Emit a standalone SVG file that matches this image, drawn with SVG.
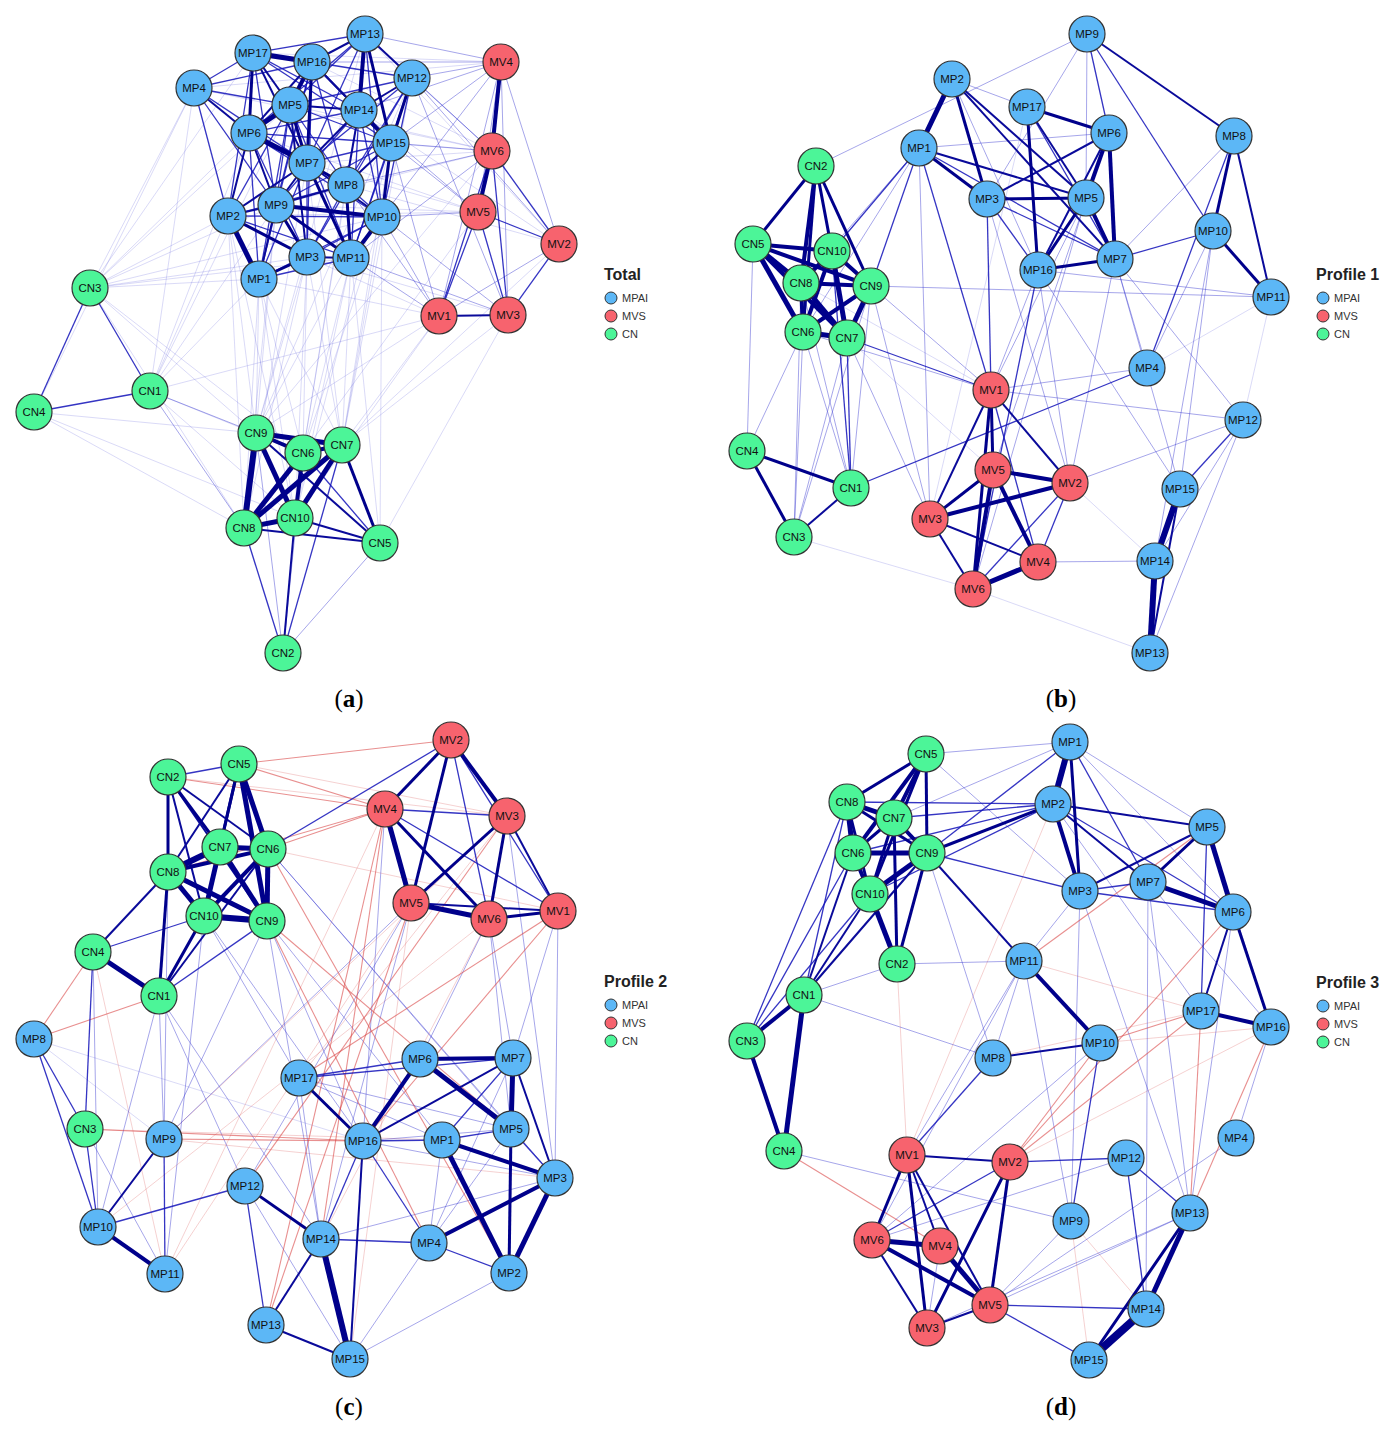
<svg xmlns="http://www.w3.org/2000/svg" width="1392" height="1430" viewBox="0 0 1392 1430">
<style>
.e8{stroke:#00008b;stroke-width:8}.e6{stroke:#00008b;stroke-width:6}.e5{stroke:#00008b;stroke-width:5}.e4{stroke:#00008b;stroke-width:4}.e3{stroke:#00008b;stroke-width:3}
.e2{stroke:#0a0a9a;stroke-width:2}.e1{stroke:#1212b8;stroke-width:1.3;stroke-opacity:.85}.l{stroke:#3a3ad0;stroke-width:1;stroke-opacity:.45}.f{stroke:#6a6ae0;stroke-width:1;stroke-opacity:.25}
.r{stroke:#d94545;stroke-width:1.1;stroke-opacity:.6}.rf{stroke:#e07070;stroke-width:1;stroke-opacity:.32}
.n circle{stroke:#333;stroke-width:1.2}.b circle{fill:#5cb7f6}.v circle{fill:#f7636e}.g circle{fill:#4cf598}
.n text{font-family:'Liberation Sans',Arial,sans-serif;font-size:11.5px;fill:#111;text-anchor:middle;dominant-baseline:central}
.lt{font-family:'Liberation Sans',Arial,sans-serif;font-size:16px;font-weight:bold;fill:#222}
.li{font-family:'Liberation Sans',Arial,sans-serif;font-size:11px;fill:#333}
.lc{stroke:#333;stroke-width:1}
.cap{font-family:'Liberation Serif','Times New Roman',serif;font-size:25px;fill:#000;text-anchor:middle}
</style>
<rect width="1392" height="1430" fill="#fff"/>
<g id="connectors">
<g id="edges-a">
<line class="f" x1="259" y1="279" x2="256" y2="433"/><line class="f" x1="259" y1="279" x2="244" y2="528"/><line class="f" x1="259" y1="279" x2="303" y2="453"/><line class="f" x1="259" y1="279" x2="342" y2="445"/><line class="f" x1="259" y1="279" x2="295" y2="518"/>
<line class="f" x1="307" y1="257" x2="256" y2="433"/><line class="f" x1="307" y1="257" x2="303" y2="453"/><line class="f" x1="307" y1="257" x2="342" y2="445"/><line class="f" x1="307" y1="257" x2="295" y2="518"/><line class="f" x1="307" y1="257" x2="244" y2="528"/>
<line class="f" x1="351" y1="258" x2="342" y2="445"/><line class="f" x1="351" y1="258" x2="256" y2="433"/><line class="f" x1="351" y1="258" x2="303" y2="453"/><line class="f" x1="351" y1="258" x2="380" y2="543"/><line class="f" x1="351" y1="258" x2="295" y2="518"/>
<line class="f" x1="276" y1="205" x2="256" y2="433"/><line class="f" x1="276" y1="205" x2="244" y2="528"/><line class="f" x1="228" y1="216" x2="256" y2="433"/><line class="f" x1="228" y1="216" x2="244" y2="528"/><line class="f" x1="228" y1="216" x2="295" y2="518"/>
<line class="f" x1="382" y1="217" x2="342" y2="445"/><line class="f" x1="382" y1="217" x2="303" y2="453"/><line class="f" x1="382" y1="217" x2="380" y2="543"/><line class="f" x1="346" y1="185" x2="303" y2="453"/><line class="f" x1="307" y1="163" x2="342" y2="445"/><line class="f" x1="307" y1="163" x2="244" y2="528"/>
<line class="f" x1="228" y1="216" x2="150" y2="391"/><line class="f" x1="259" y1="279" x2="150" y2="391"/><line class="f" x1="276" y1="205" x2="150" y2="391"/><line class="f" x1="249" y1="133" x2="150" y2="391"/>
<line class="f" x1="194" y1="88" x2="90" y2="288"/><line class="f" x1="228" y1="216" x2="90" y2="288"/><line class="f" x1="259" y1="279" x2="90" y2="288"/><line class="f" x1="249" y1="133" x2="90" y2="288"/><line class="f" x1="276" y1="205" x2="90" y2="288"/><line class="f" x1="307" y1="257" x2="90" y2="288"/><line class="f" x1="351" y1="258" x2="90" y2="288"/><line class="f" x1="382" y1="217" x2="90" y2="288"/><line class="f" x1="290" y1="105" x2="90" y2="288"/>
<line class="f" x1="439" y1="316" x2="342" y2="445"/><line class="f" x1="439" y1="316" x2="256" y2="433"/><line class="f" x1="508" y1="315" x2="342" y2="445"/><line class="f" x1="478" y1="212" x2="303" y2="453"/><line class="f" x1="439" y1="316" x2="150" y2="391"/><line class="f" x1="508" y1="315" x2="380" y2="543"/><line class="f" x1="559" y1="244" x2="342" y2="445"/><line class="f" x1="439" y1="316" x2="295" y2="518"/><line class="f" x1="492" y1="151" x2="256" y2="433"/>
<line class="f" x1="391" y1="143" x2="342" y2="445"/><line class="f" x1="359" y1="110" x2="303" y2="453"/><line class="f" x1="412" y1="78" x2="342" y2="445"/><line class="f" x1="365" y1="34" x2="256" y2="433"/><line class="f" x1="312" y1="62" x2="150" y2="391"/><line class="f" x1="253" y1="53" x2="90" y2="288"/><line class="f" x1="412" y1="78" x2="256" y2="433"/><line class="f" x1="391" y1="143" x2="295" y2="518"/><line class="f" x1="194" y1="88" x2="150" y2="391"/><line class="f" x1="194" y1="88" x2="34" y2="412"/>
<line class="f" x1="194" y1="88" x2="501" y2="62"/><line class="f" x1="194" y1="88" x2="492" y2="151"/><line class="f" x1="249" y1="133" x2="492" y2="151"/><line class="f" x1="307" y1="163" x2="478" y2="212"/><line class="f" x1="276" y1="205" x2="478" y2="212"/><line class="f" x1="228" y1="216" x2="478" y2="212"/><line class="f" x1="259" y1="279" x2="439" y2="316"/><line class="f" x1="307" y1="257" x2="439" y2="316"/><line class="f" x1="307" y1="257" x2="508" y2="315"/>
<line class="f" x1="346" y1="185" x2="559" y2="244"/><line class="f" x1="359" y1="110" x2="559" y2="244"/><line class="f" x1="312" y1="62" x2="492" y2="151"/><line class="f" x1="253" y1="53" x2="501" y2="62"/><line class="f" x1="290" y1="105" x2="492" y2="151"/><line class="f" x1="249" y1="133" x2="478" y2="212"/><line class="f" x1="365" y1="34" x2="559" y2="244"/><line class="f" x1="276" y1="205" x2="492" y2="151"/><line class="f" x1="307" y1="163" x2="492" y2="151"/>
<line class="f" x1="150" y1="391" x2="295" y2="518"/><line class="f" x1="150" y1="391" x2="303" y2="453"/><line class="f" x1="34" y1="412" x2="244" y2="528"/><line class="f" x1="34" y1="412" x2="256" y2="433"/><line class="f" x1="34" y1="412" x2="295" y2="518"/><line class="f" x1="90" y1="288" x2="256" y2="433"/><line class="f" x1="90" y1="288" x2="244" y2="528"/><line class="f" x1="90" y1="288" x2="303" y2="453"/>
<line class="l" x1="365" y1="34" x2="501" y2="62"/><line class="l" x1="412" y1="78" x2="501" y2="62"/><line class="l" x1="312" y1="62" x2="501" y2="62"/><line class="l" x1="359" y1="110" x2="501" y2="62"/><line class="l" x1="391" y1="143" x2="492" y2="151"/><line class="l" x1="412" y1="78" x2="492" y2="151"/><line class="l" x1="382" y1="217" x2="478" y2="212"/><line class="l" x1="391" y1="143" x2="478" y2="212"/>
<line class="l" x1="351" y1="258" x2="439" y2="316"/><line class="l" x1="382" y1="217" x2="439" y2="316"/><line class="l" x1="346" y1="185" x2="439" y2="316"/><line class="l" x1="391" y1="143" x2="439" y2="316"/><line class="l" x1="382" y1="217" x2="508" y2="315"/><line class="l" x1="412" y1="78" x2="559" y2="244"/><line class="l" x1="351" y1="258" x2="508" y2="315"/><line class="l" x1="412" y1="78" x2="508" y2="315"/>
<line class="l" x1="501" y1="62" x2="391" y2="143"/><line class="l" x1="501" y1="62" x2="382" y2="217"/><line class="l" x1="492" y1="151" x2="351" y2="258"/><line class="l" x1="492" y1="151" x2="346" y2="185"/><line class="l" x1="359" y1="110" x2="478" y2="212"/><line class="l" x1="365" y1="34" x2="492" y2="151"/>
<line class="l" x1="501" y1="62" x2="559" y2="244"/><line class="l" x1="501" y1="62" x2="478" y2="212"/><line class="l" x1="439" y1="316" x2="559" y2="244"/><line class="l" x1="501" y1="62" x2="439" y2="316"/><line class="l" x1="501" y1="62" x2="508" y2="315"/>
<line class="l" x1="150" y1="391" x2="256" y2="433"/><line class="l" x1="150" y1="391" x2="244" y2="528"/><line class="l" x1="283" y1="653" x2="256" y2="433"/><line class="l" x1="283" y1="653" x2="380" y2="543"/><line class="l" x1="283" y1="653" x2="303" y2="453"/>
<line class="e1" x1="194" y1="88" x2="290" y2="105"/><line class="e1" x1="194" y1="88" x2="253" y2="53"/><line class="e1" x1="194" y1="88" x2="228" y2="216"/><line class="e1" x1="194" y1="88" x2="312" y2="62"/><line class="e1" x1="194" y1="88" x2="307" y2="163"/><line class="e1" x1="194" y1="88" x2="276" y2="205"/>
<line class="e1" x1="365" y1="34" x2="253" y2="53"/><line class="e1" x1="365" y1="34" x2="290" y2="105"/><line class="e1" x1="365" y1="34" x2="307" y2="163"/><line class="e1" x1="365" y1="34" x2="382" y2="217"/><line class="e1" x1="412" y1="78" x2="312" y2="62"/><line class="e1" x1="412" y1="78" x2="382" y2="217"/><line class="e1" x1="412" y1="78" x2="351" y2="258"/><line class="e1" x1="412" y1="78" x2="346" y2="185"/>
<line class="e1" x1="391" y1="143" x2="351" y2="258"/><line class="e1" x1="391" y1="143" x2="307" y2="163"/><line class="e1" x1="391" y1="143" x2="290" y2="105"/><line class="e1" x1="359" y1="110" x2="249" y2="133"/><line class="e1" x1="359" y1="110" x2="382" y2="217"/><line class="e1" x1="359" y1="110" x2="351" y2="258"/><line class="e1" x1="359" y1="110" x2="276" y2="205"/>
<line class="e1" x1="312" y1="62" x2="346" y2="185"/><line class="e1" x1="312" y1="62" x2="276" y2="205"/><line class="e1" x1="312" y1="62" x2="307" y2="257"/><line class="e1" x1="253" y1="53" x2="276" y2="205"/><line class="e1" x1="253" y1="53" x2="228" y2="216"/><line class="e1" x1="253" y1="53" x2="359" y2="110"/>
<line class="e1" x1="290" y1="105" x2="276" y2="205"/><line class="e1" x1="290" y1="105" x2="346" y2="185"/><line class="e1" x1="290" y1="105" x2="228" y2="216"/><line class="e1" x1="290" y1="105" x2="351" y2="258"/><line class="e1" x1="249" y1="133" x2="346" y2="185"/><line class="e1" x1="249" y1="133" x2="307" y2="257"/><line class="e1" x1="249" y1="133" x2="259" y2="279"/><line class="e1" x1="249" y1="133" x2="382" y2="217"/>
<line class="e1" x1="307" y1="163" x2="307" y2="257"/><line class="e1" x1="307" y1="163" x2="259" y2="279"/><line class="e1" x1="346" y1="185" x2="382" y2="217"/><line class="e1" x1="346" y1="185" x2="307" y2="257"/><line class="e1" x1="346" y1="185" x2="228" y2="216"/><line class="e1" x1="276" y1="205" x2="391" y2="143"/>
<line class="e1" x1="382" y1="217" x2="307" y2="257"/><line class="e1" x1="382" y1="217" x2="259" y2="279"/><line class="e1" x1="351" y1="258" x2="259" y2="279"/><line class="e1" x1="228" y1="216" x2="382" y2="217"/><line class="e1" x1="228" y1="216" x2="351" y2="258"/><line class="e1" x1="307" y1="257" x2="412" y2="78"/>
<line class="e1" x1="259" y1="279" x2="290" y2="105"/><line class="e1" x1="259" y1="279" x2="312" y2="62"/><line class="e1" x1="253" y1="53" x2="391" y2="143"/><line class="e1" x1="412" y1="78" x2="290" y2="105"/><line class="e1" x1="365" y1="34" x2="249" y2="133"/><line class="e1" x1="391" y1="143" x2="249" y2="133"/><line class="e1" x1="412" y1="78" x2="307" y2="163"/>
<line class="e1" x1="508" y1="315" x2="559" y2="244"/><line class="e1" x1="439" y1="316" x2="478" y2="212"/><line class="e1" x1="478" y1="212" x2="559" y2="244"/><line class="e1" x1="478" y1="212" x2="508" y2="315"/><line class="e1" x1="492" y1="151" x2="559" y2="244"/><line class="e1" x1="492" y1="151" x2="508" y2="315"/><line class="e1" x1="492" y1="151" x2="439" y2="316"/>
<line class="e1" x1="90" y1="288" x2="34" y2="412"/><line class="e1" x1="90" y1="288" x2="150" y2="391"/><line class="e1" x1="150" y1="391" x2="34" y2="412"/><line class="e1" x1="303" y1="453" x2="380" y2="543"/><line class="e1" x1="244" y1="528" x2="283" y2="653"/><line class="e1" x1="342" y1="445" x2="283" y2="653"/>
<line class="e2" x1="412" y1="78" x2="359" y2="110"/><line class="e2" x1="228" y1="216" x2="276" y2="205"/><line class="e2" x1="228" y1="216" x2="249" y2="133"/><line class="e2" x1="194" y1="88" x2="249" y2="133"/><line class="e2" x1="312" y1="62" x2="249" y2="133"/><line class="e2" x1="290" y1="105" x2="307" y2="257"/><line class="e2" x1="307" y1="163" x2="276" y2="205"/><line class="e2" x1="346" y1="185" x2="276" y2="205"/>
<line class="e2" x1="359" y1="110" x2="346" y2="185"/><line class="e2" x1="312" y1="62" x2="359" y2="110"/><line class="e2" x1="365" y1="34" x2="312" y2="62"/><line class="e2" x1="365" y1="34" x2="412" y2="78"/><line class="e2" x1="253" y1="53" x2="290" y2="105"/><line class="e2" x1="249" y1="133" x2="276" y2="205"/><line class="e2" x1="307" y1="257" x2="351" y2="258"/><line class="e2" x1="259" y1="279" x2="276" y2="205"/>
<line class="e2" x1="307" y1="163" x2="382" y2="217"/><line class="e2" x1="391" y1="143" x2="346" y2="185"/><line class="e2" x1="312" y1="62" x2="391" y2="143"/><line class="e2" x1="290" y1="105" x2="359" y2="110"/><line class="e2" x1="359" y1="110" x2="307" y2="163"/><line class="e2" x1="228" y1="216" x2="307" y2="163"/><line class="e2" x1="253" y1="53" x2="307" y2="163"/>
<line class="e2" x1="439" y1="316" x2="508" y2="315"/><line class="e2" x1="295" y1="518" x2="380" y2="543"/><line class="e2" x1="244" y1="528" x2="380" y2="543"/><line class="e2" x1="256" y1="433" x2="380" y2="543"/><line class="e2" x1="295" y1="518" x2="283" y2="653"/>
<line class="e3" x1="365" y1="34" x2="391" y2="143"/><line class="e3" x1="253" y1="53" x2="249" y2="133"/><line class="e3" x1="228" y1="216" x2="307" y2="257"/><line class="e3" x1="346" y1="185" x2="351" y2="258"/><line class="e3" x1="391" y1="143" x2="382" y2="217"/><line class="e3" x1="412" y1="78" x2="391" y2="143"/><line class="e3" x1="307" y1="163" x2="346" y2="185"/>
<line class="e3" x1="276" y1="205" x2="351" y2="258"/><line class="e3" x1="276" y1="205" x2="307" y2="257"/><line class="e3" x1="259" y1="279" x2="307" y2="257"/><line class="e3" x1="307" y1="163" x2="351" y2="258"/><line class="e3" x1="312" y1="62" x2="307" y2="163"/><line class="e3" x1="290" y1="105" x2="307" y2="163"/><line class="e3" x1="342" y1="445" x2="380" y2="543"/>
<line class="e4" x1="365" y1="34" x2="359" y2="110"/><line class="e4" x1="359" y1="110" x2="391" y2="143"/><line class="e4" x1="276" y1="205" x2="382" y2="217"/><line class="e4" x1="382" y1="217" x2="351" y2="258"/><line class="e4" x1="312" y1="62" x2="290" y2="105"/><line class="e4" x1="501" y1="62" x2="492" y2="151"/><line class="e4" x1="492" y1="151" x2="478" y2="212"/>
<line class="e4" x1="256" y1="433" x2="303" y2="453"/><line class="e4" x1="303" y1="453" x2="295" y2="518"/><line class="e4" x1="303" y1="453" x2="342" y2="445"/>
<line class="e5" x1="253" y1="53" x2="312" y2="62"/><line class="e5" x1="290" y1="105" x2="249" y2="133"/><line class="e5" x1="249" y1="133" x2="307" y2="163"/><line class="e5" x1="228" y1="216" x2="259" y2="279"/>
<line class="e5" x1="256" y1="433" x2="342" y2="445"/><line class="e5" x1="256" y1="433" x2="295" y2="518"/><line class="e5" x1="303" y1="453" x2="244" y2="528"/><line class="e5" x1="342" y1="445" x2="244" y2="528"/><line class="e5" x1="342" y1="445" x2="295" y2="518"/><line class="e5" x1="244" y1="528" x2="295" y2="518"/>
<line class="e6" x1="256" y1="433" x2="244" y2="528"/>
</g>
<g id="edges-b">
<line class="f" x1="973" y1="589" x2="1150" y2="653"/><line class="f" x1="794" y1="537" x2="973" y2="589"/><line class="f" x1="1070" y1="483" x2="1155" y2="561"/><line class="f" x1="1271" y1="297" x2="1147" y2="368"/><line class="f" x1="1027" y1="107" x2="930" y2="519"/><line class="f" x1="801" y1="283" x2="991" y2="390"/><line class="f" x1="847" y1="338" x2="993" y2="470"/><line class="f" x1="1271" y1="297" x2="1243" y2="420"/>
<line class="l" x1="1087" y1="34" x2="816" y2="166"/><line class="l" x1="952" y1="79" x2="1038" y2="270"/><line class="l" x1="952" y1="79" x2="1027" y2="107"/><line class="l" x1="919" y1="148" x2="1109" y2="133"/><line class="l" x1="919" y1="148" x2="803" y2="332"/><line class="l" x1="919" y1="148" x2="801" y2="283"/><line class="l" x1="919" y1="148" x2="930" y2="519"/>
<line class="l" x1="1087" y1="34" x2="1086" y2="198"/><line class="l" x1="1087" y1="34" x2="987" y2="199"/><line class="l" x1="1234" y1="136" x2="1115" y2="259"/><line class="l" x1="1213" y1="231" x2="1147" y2="368"/><line class="l" x1="1213" y1="231" x2="1180" y2="489"/><line class="l" x1="1213" y1="231" x2="1155" y2="561"/><line class="l" x1="1271" y1="297" x2="871" y2="286"/><line class="l" x1="1271" y1="297" x2="1038" y2="270"/>
<line class="l" x1="987" y1="199" x2="1070" y2="483"/><line class="l" x1="1038" y1="270" x2="991" y2="390"/><line class="l" x1="1038" y1="270" x2="1070" y2="483"/><line class="l" x1="1086" y1="198" x2="991" y2="390"/><line class="l" x1="1115" y1="259" x2="1070" y2="483"/><line class="l" x1="1115" y1="259" x2="1147" y2="368"/><line class="l" x1="1109" y1="133" x2="993" y2="470"/><line class="l" x1="1086" y1="198" x2="973" y2="589"/><line class="l" x1="1115" y1="259" x2="1243" y2="420"/>
<line class="l" x1="1147" y1="368" x2="991" y2="390"/><line class="l" x1="1243" y1="420" x2="991" y2="390"/><line class="l" x1="1243" y1="420" x2="1070" y2="483"/><line class="l" x1="1243" y1="420" x2="1155" y2="561"/><line class="l" x1="1243" y1="420" x2="1150" y2="653"/><line class="l" x1="1155" y1="561" x2="1038" y2="562"/><line class="l" x1="1038" y1="270" x2="1180" y2="489"/><line class="l" x1="1115" y1="259" x2="1180" y2="489"/>
<line class="l" x1="803" y1="332" x2="747" y2="451"/><line class="l" x1="803" y1="332" x2="794" y2="537"/><line class="l" x1="803" y1="332" x2="851" y2="488"/><line class="l" x1="847" y1="338" x2="794" y2="537"/><line class="l" x1="801" y1="283" x2="794" y2="537"/><line class="l" x1="803" y1="332" x2="991" y2="390"/><line class="l" x1="847" y1="338" x2="930" y2="519"/><line class="l" x1="753" y1="244" x2="747" y2="451"/>
<line class="l" x1="801" y1="283" x2="851" y2="488"/><line class="l" x1="871" y1="286" x2="794" y2="537"/><line class="l" x1="871" y1="286" x2="851" y2="488"/><line class="l" x1="871" y1="286" x2="991" y2="390"/><line class="l" x1="871" y1="286" x2="930" y2="519"/>
<line class="e1" x1="919" y1="148" x2="1115" y2="259"/><line class="e1" x1="919" y1="148" x2="871" y2="286"/><line class="e1" x1="919" y1="148" x2="832" y2="251"/><line class="e1" x1="919" y1="148" x2="991" y2="390"/><line class="e1" x1="1027" y1="107" x2="1115" y2="259"/><line class="e1" x1="987" y1="199" x2="1115" y2="259"/><line class="e1" x1="987" y1="199" x2="1038" y2="270"/>
<line class="e1" x1="1087" y1="34" x2="1109" y2="133"/><line class="e1" x1="1087" y1="34" x2="1213" y2="231"/><line class="e1" x1="1234" y1="136" x2="1147" y2="368"/><line class="e1" x1="1213" y1="231" x2="1115" y2="259"/><line class="e1" x1="987" y1="199" x2="991" y2="390"/><line class="e1" x1="1038" y1="270" x2="973" y2="589"/><line class="e1" x1="1243" y1="420" x2="1180" y2="489"/>
<line class="e1" x1="847" y1="338" x2="851" y2="488"/><line class="e1" x1="832" y1="251" x2="851" y2="488"/><line class="e1" x1="847" y1="338" x2="991" y2="390"/><line class="e1" x1="851" y1="488" x2="1147" y2="368"/><line class="e1" x1="1070" y1="483" x2="973" y2="589"/><line class="e1" x1="1070" y1="483" x2="1038" y2="562"/><line class="e1" x1="991" y1="390" x2="1038" y2="562"/>
<line class="e2" x1="952" y1="79" x2="1086" y2="198"/><line class="e2" x1="952" y1="79" x2="1115" y2="259"/><line class="e2" x1="919" y1="148" x2="1086" y2="198"/><line class="e2" x1="1027" y1="107" x2="1086" y2="198"/><line class="e2" x1="1109" y1="133" x2="987" y2="199"/><line class="e2" x1="1109" y1="133" x2="1038" y2="270"/><line class="e2" x1="1087" y1="34" x2="1234" y2="136"/><line class="e2" x1="1234" y1="136" x2="1271" y2="297"/>
<line class="e2" x1="851" y1="488" x2="794" y2="537"/><line class="e2" x1="991" y1="390" x2="1070" y2="483"/><line class="e2" x1="991" y1="390" x2="930" y2="519"/><line class="e2" x1="930" y1="519" x2="1038" y2="562"/><line class="e2" x1="930" y1="519" x2="973" y2="589"/><line class="e2" x1="1180" y1="489" x2="1150" y2="653"/>
<line class="e3" x1="1086" y1="198" x2="1038" y2="270"/><line class="e3" x1="1038" y1="270" x2="1115" y2="259"/><line class="e3" x1="952" y1="79" x2="987" y2="199"/><line class="e3" x1="919" y1="148" x2="987" y2="199"/><line class="e3" x1="1027" y1="107" x2="1109" y2="133"/><line class="e3" x1="1027" y1="107" x2="1038" y2="270"/><line class="e3" x1="987" y1="199" x2="1086" y2="198"/><line class="e3" x1="1234" y1="136" x2="1213" y2="231"/><line class="e3" x1="1213" y1="231" x2="1271" y2="297"/>
<line class="e3" x1="816" y1="166" x2="753" y2="244"/><line class="e3" x1="816" y1="166" x2="832" y2="251"/><line class="e3" x1="816" y1="166" x2="871" y2="286"/><line class="e3" x1="816" y1="166" x2="803" y2="332"/><line class="e3" x1="747" y1="451" x2="851" y2="488"/><line class="e3" x1="747" y1="451" x2="794" y2="537"/><line class="e3" x1="991" y1="390" x2="993" y2="470"/><line class="e3" x1="991" y1="390" x2="973" y2="589"/><line class="e3" x1="993" y1="470" x2="930" y2="519"/>
<line class="e4" x1="1109" y1="133" x2="1086" y2="198"/><line class="e4" x1="1109" y1="133" x2="1115" y2="259"/><line class="e4" x1="1086" y1="198" x2="1115" y2="259"/><line class="e4" x1="816" y1="166" x2="801" y2="283"/><line class="e4" x1="753" y1="244" x2="832" y2="251"/><line class="e4" x1="753" y1="244" x2="871" y2="286"/><line class="e4" x1="753" y1="244" x2="847" y2="338"/>
<line class="e4" x1="832" y1="251" x2="871" y2="286"/><line class="e4" x1="832" y1="251" x2="801" y2="283"/><line class="e4" x1="832" y1="251" x2="803" y2="332"/><line class="e4" x1="801" y1="283" x2="871" y2="286"/><line class="e4" x1="801" y1="283" x2="803" y2="332"/><line class="e4" x1="871" y1="286" x2="803" y2="332"/>
<line class="e4" x1="993" y1="470" x2="1070" y2="483"/><line class="e4" x1="993" y1="470" x2="973" y2="589"/><line class="e4" x1="993" y1="470" x2="1038" y2="562"/><line class="e4" x1="930" y1="519" x2="1070" y2="483"/>
<line class="e5" x1="952" y1="79" x2="919" y2="148"/><line class="e5" x1="753" y1="244" x2="801" y2="283"/><line class="e5" x1="753" y1="244" x2="803" y2="332"/><line class="e5" x1="832" y1="251" x2="847" y2="338"/><line class="e5" x1="801" y1="283" x2="847" y2="338"/><line class="e5" x1="871" y1="286" x2="847" y2="338"/><line class="e5" x1="803" y1="332" x2="847" y2="338"/><line class="e5" x1="973" y1="589" x2="1038" y2="562"/>
<line class="e6" x1="1180" y1="489" x2="1155" y2="561"/><line class="e6" x1="1155" y1="561" x2="1150" y2="653"/>
</g>
<g id="edges-c">
<line class="f" x1="34" y1="1039" x2="164" y2="1139"/><line class="f" x1="34" y1="1039" x2="363" y2="1141"/>
<line class="rf" x1="165" y1="1274" x2="385" y2="809"/><line class="rf" x1="350" y1="1359" x2="411" y2="903"/><line class="rf" x1="489" y1="919" x2="321" y2="1239"/><line class="rf" x1="85" y1="1129" x2="442" y2="1140"/><line class="rf" x1="164" y1="1139" x2="555" y2="1178"/><line class="rf" x1="165" y1="1274" x2="411" y2="903"/><line class="rf" x1="98" y1="1227" x2="489" y2="919"/><line class="rf" x1="93" y1="952" x2="165" y2="1274"/><line class="rf" x1="507" y1="816" x2="164" y2="1139"/><line class="rf" x1="299" y1="1078" x2="507" y2="816"/><line class="rf" x1="168" y1="777" x2="507" y2="816"/><line class="rf" x1="239" y1="764" x2="507" y2="816"/><line class="rf" x1="268" y1="849" x2="558" y2="911"/>
<line class="l" x1="513" y1="1058" x2="429" y2="1243"/><line class="l" x1="299" y1="1078" x2="511" y2="1129"/><line class="l" x1="299" y1="1078" x2="321" y2="1239"/><line class="l" x1="299" y1="1078" x2="442" y2="1140"/><line class="l" x1="363" y1="1141" x2="511" y2="1129"/><line class="l" x1="363" y1="1141" x2="555" y2="1178"/><line class="l" x1="442" y1="1140" x2="429" y2="1243"/><line class="l" x1="511" y1="1129" x2="429" y2="1243"/>
<line class="l" x1="555" y1="1178" x2="321" y2="1239"/><line class="l" x1="429" y1="1243" x2="350" y2="1359"/><line class="l" x1="245" y1="1186" x2="350" y2="1359"/><line class="l" x1="509" y1="1273" x2="350" y2="1359"/><line class="l" x1="93" y1="952" x2="98" y2="1227"/><line class="l" x1="164" y1="1139" x2="159" y2="996"/><line class="l" x1="164" y1="1139" x2="267" y2="921"/><line class="l" x1="164" y1="1139" x2="168" y2="872"/>
<line class="l" x1="98" y1="1227" x2="159" y2="996"/><line class="l" x1="165" y1="1274" x2="85" y2="1129"/><line class="l" x1="165" y1="1274" x2="204" y2="916"/><line class="l" x1="267" y1="921" x2="363" y2="1141"/><line class="l" x1="267" y1="921" x2="442" y2="1140"/><line class="l" x1="267" y1="921" x2="321" y2="1239"/><line class="l" x1="268" y1="849" x2="511" y2="1129"/><line class="l" x1="204" y1="916" x2="299" y2="1078"/>
<line class="l" x1="159" y1="996" x2="245" y2="1186"/><line class="l" x1="159" y1="996" x2="321" y2="1239"/><line class="l" x1="204" y1="916" x2="363" y2="1141"/><line class="l" x1="268" y1="849" x2="555" y2="1178"/><line class="l" x1="411" y1="903" x2="164" y2="1139"/><line class="l" x1="411" y1="903" x2="321" y2="1239"/><line class="l" x1="411" y1="903" x2="245" y2="1186"/>
<line class="l" x1="489" y1="919" x2="513" y2="1058"/><line class="l" x1="489" y1="919" x2="511" y2="1129"/><line class="l" x1="489" y1="919" x2="420" y2="1059"/><line class="l" x1="558" y1="911" x2="555" y2="1178"/><line class="l" x1="558" y1="911" x2="513" y2="1058"/><line class="l" x1="507" y1="816" x2="555" y2="1178"/><line class="l" x1="385" y1="809" x2="363" y2="1141"/>
<line class="r" x1="164" y1="1139" x2="363" y2="1141"/><line class="r" x1="85" y1="1129" x2="363" y2="1141"/><line class="r" x1="266" y1="1325" x2="385" y2="809"/><line class="r" x1="245" y1="1186" x2="507" y2="816"/><line class="r" x1="267" y1="921" x2="511" y2="1129"/><line class="r" x1="321" y1="1239" x2="385" y2="809"/><line class="r" x1="268" y1="849" x2="509" y2="1273"/><line class="r" x1="267" y1="921" x2="429" y2="1243"/>
<line class="r" x1="411" y1="903" x2="266" y2="1325"/><line class="r" x1="558" y1="911" x2="363" y2="1141"/><line class="r" x1="239" y1="764" x2="451" y2="740"/><line class="r" x1="168" y1="777" x2="385" y2="809"/><line class="r" x1="239" y1="764" x2="385" y2="809"/><line class="r" x1="268" y1="849" x2="385" y2="809"/><line class="r" x1="168" y1="872" x2="385" y2="809"/><line class="r" x1="34" y1="1039" x2="93" y2="952"/><line class="r" x1="34" y1="1039" x2="159" y2="996"/><line class="r" x1="558" y1="911" x2="299" y2="1078"/>
<line class="e1" x1="451" y1="740" x2="489" y2="919"/><line class="e1" x1="451" y1="740" x2="558" y2="911"/><line class="e1" x1="385" y1="809" x2="507" y2="816"/><line class="e1" x1="385" y1="809" x2="558" y2="911"/><line class="e1" x1="168" y1="777" x2="239" y2="764"/><line class="e1" x1="267" y1="921" x2="159" y2="996"/><line class="e1" x1="204" y1="916" x2="93" y2="952"/><line class="e1" x1="93" y1="952" x2="85" y2="1129"/><line class="e1" x1="268" y1="849" x2="451" y2="740"/>
<line class="e1" x1="34" y1="1039" x2="98" y2="1227"/><line class="e1" x1="34" y1="1039" x2="85" y2="1129"/><line class="e1" x1="420" y1="1059" x2="299" y2="1078"/><line class="e1" x1="513" y1="1058" x2="442" y2="1140"/><line class="e1" x1="363" y1="1141" x2="442" y2="1140"/><line class="e1" x1="363" y1="1141" x2="321" y2="1239"/><line class="e1" x1="363" y1="1141" x2="429" y2="1243"/><line class="e1" x1="442" y1="1140" x2="511" y2="1129"/>
<line class="e1" x1="511" y1="1129" x2="555" y2="1178"/><line class="e1" x1="429" y1="1243" x2="509" y2="1273"/><line class="e1" x1="429" y1="1243" x2="321" y2="1239"/><line class="e1" x1="245" y1="1186" x2="266" y2="1325"/><line class="e1" x1="245" y1="1186" x2="98" y2="1227"/><line class="e1" x1="98" y1="1227" x2="85" y2="1129"/><line class="e1" x1="164" y1="1139" x2="165" y2="1274"/><line class="e1" x1="299" y1="1078" x2="513" y2="1058"/>
<line class="e2" x1="507" y1="816" x2="558" y2="911"/><line class="e2" x1="411" y1="903" x2="558" y2="911"/><line class="e2" x1="168" y1="777" x2="268" y2="849"/><line class="e2" x1="168" y1="777" x2="204" y2="916"/><line class="e2" x1="168" y1="777" x2="267" y2="921"/><line class="e2" x1="239" y1="764" x2="168" y2="872"/><line class="e2" x1="168" y1="872" x2="93" y2="952"/><line class="e2" x1="268" y1="849" x2="159" y2="996"/>
<line class="e2" x1="513" y1="1058" x2="363" y2="1141"/><line class="e2" x1="513" y1="1058" x2="555" y2="1178"/><line class="e2" x1="363" y1="1141" x2="350" y2="1359"/><line class="e2" x1="321" y1="1239" x2="266" y2="1325"/><line class="e2" x1="266" y1="1325" x2="350" y2="1359"/><line class="e2" x1="98" y1="1227" x2="164" y2="1139"/>
<line class="e3" x1="451" y1="740" x2="385" y2="809"/><line class="e3" x1="451" y1="740" x2="411" y2="903"/><line class="e3" x1="385" y1="809" x2="489" y2="919"/><line class="e3" x1="507" y1="816" x2="411" y2="903"/><line class="e3" x1="507" y1="816" x2="489" y2="919"/><line class="e3" x1="489" y1="919" x2="558" y2="911"/>
<line class="e3" x1="168" y1="777" x2="220" y2="847"/><line class="e3" x1="168" y1="777" x2="168" y2="872"/><line class="e3" x1="239" y1="764" x2="220" y2="847"/><line class="e3" x1="239" y1="764" x2="204" y2="916"/><line class="e3" x1="168" y1="872" x2="159" y2="996"/><line class="e3" x1="204" y1="916" x2="159" y2="996"/>
<line class="e3" x1="299" y1="1078" x2="363" y2="1141"/><line class="e3" x1="511" y1="1129" x2="509" y2="1273"/><line class="e3" x1="321" y1="1239" x2="245" y2="1186"/>
<line class="e4" x1="451" y1="740" x2="507" y2="816"/><line class="e4" x1="168" y1="872" x2="268" y2="849"/><line class="e4" x1="268" y1="849" x2="204" y2="916"/><line class="e4" x1="420" y1="1059" x2="513" y2="1058"/><line class="e4" x1="420" y1="1059" x2="363" y2="1141"/><line class="e4" x1="442" y1="1140" x2="555" y2="1178"/><line class="e4" x1="555" y1="1178" x2="429" y2="1243"/><line class="e4" x1="98" y1="1227" x2="165" y2="1274"/>
<line class="e5" x1="385" y1="809" x2="411" y2="903"/><line class="e5" x1="411" y1="903" x2="489" y2="919"/><line class="e5" x1="239" y1="764" x2="268" y2="849"/><line class="e5" x1="239" y1="764" x2="267" y2="921"/><line class="e5" x1="220" y1="847" x2="268" y2="849"/><line class="e5" x1="220" y1="847" x2="204" y2="916"/><line class="e5" x1="220" y1="847" x2="267" y2="921"/>
<line class="e5" x1="168" y1="872" x2="204" y2="916"/><line class="e5" x1="168" y1="872" x2="267" y2="921"/><line class="e5" x1="268" y1="849" x2="267" y2="921"/><line class="e5" x1="93" y1="952" x2="159" y2="996"/><line class="e5" x1="420" y1="1059" x2="511" y2="1129"/><line class="e5" x1="513" y1="1058" x2="511" y2="1129"/><line class="e5" x1="442" y1="1140" x2="509" y2="1273"/><line class="e5" x1="555" y1="1178" x2="509" y2="1273"/>
<line class="e6" x1="220" y1="847" x2="168" y2="872"/><line class="e6" x1="204" y1="916" x2="267" y2="921"/><line class="e6" x1="321" y1="1239" x2="350" y2="1359"/>
</g>
<g id="edges-d">
<line class="rf" x1="897" y1="964" x2="907" y2="1155"/><line class="rf" x1="1053" y1="804" x2="907" y2="1155"/><line class="rf" x1="1271" y1="1027" x2="1010" y2="1162"/><line class="rf" x1="1071" y1="1221" x2="1089" y2="1360"/><line class="rf" x1="1071" y1="1221" x2="1146" y2="1309"/><line class="rf" x1="1024" y1="961" x2="1201" y2="1011"/><line class="rf" x1="993" y1="1058" x2="1201" y2="1011"/><line class="rf" x1="1100" y1="1043" x2="1271" y2="1027"/>
<line class="l" x1="1070" y1="742" x2="1233" y2="912"/><line class="l" x1="1070" y1="742" x2="926" y2="754"/><line class="l" x1="1070" y1="742" x2="1207" y2="827"/><line class="l" x1="1070" y1="742" x2="894" y2="818"/><line class="l" x1="1053" y1="804" x2="1201" y2="1011"/><line class="l" x1="1207" y1="827" x2="1271" y2="1027"/><line class="l" x1="1080" y1="891" x2="1024" y2="961"/><line class="l" x1="1080" y1="891" x2="1071" y2="1221"/>
<line class="l" x1="1080" y1="891" x2="1190" y2="1213"/><line class="l" x1="1148" y1="882" x2="1271" y2="1027"/><line class="l" x1="1148" y1="882" x2="1146" y2="1309"/><line class="l" x1="1148" y1="882" x2="1190" y2="1213"/><line class="l" x1="1233" y1="912" x2="1190" y2="1213"/><line class="l" x1="1271" y1="1027" x2="1236" y2="1138"/><line class="l" x1="1024" y1="961" x2="993" y2="1058"/><line class="l" x1="1024" y1="961" x2="907" y2="1155"/>
<line class="l" x1="1024" y1="961" x2="1071" y2="1221"/><line class="l" x1="1024" y1="961" x2="897" y2="964"/><line class="l" x1="1100" y1="1043" x2="872" y2="1240"/><line class="l" x1="926" y1="754" x2="1080" y2="891"/><line class="l" x1="804" y1="995" x2="897" y2="964"/><line class="l" x1="804" y1="995" x2="993" y2="1058"/><line class="l" x1="927" y1="853" x2="993" y2="1058"/><line class="l" x1="784" y1="1151" x2="1071" y2="1221"/>
<line class="l" x1="872" y1="1240" x2="1126" y2="1158"/><line class="l" x1="872" y1="1240" x2="1024" y2="961"/><line class="l" x1="940" y1="1246" x2="927" y2="1328"/><line class="l" x1="927" y1="1328" x2="1190" y2="1213"/><line class="l" x1="990" y1="1305" x2="1190" y2="1213"/><line class="l" x1="990" y1="1305" x2="1071" y2="1221"/><line class="l" x1="1236" y1="1138" x2="990" y2="1305"/>
<line class="r" x1="1207" y1="827" x2="1024" y2="961"/><line class="r" x1="1233" y1="912" x2="1010" y2="1162"/><line class="r" x1="1201" y1="1011" x2="1190" y2="1213"/><line class="r" x1="1201" y1="1011" x2="1100" y2="1043"/><line class="r" x1="1201" y1="1011" x2="1010" y2="1162"/><line class="r" x1="1271" y1="1027" x2="1190" y2="1213"/><line class="r" x1="784" y1="1151" x2="940" y2="1246"/><line class="r" x1="1100" y1="1043" x2="1010" y2="1162"/>
<line class="e1" x1="1070" y1="742" x2="1148" y2="882"/><line class="e1" x1="1070" y1="742" x2="927" y2="853"/><line class="e1" x1="1053" y1="804" x2="1233" y2="912"/><line class="e1" x1="1053" y1="804" x2="894" y2="818"/><line class="e1" x1="1053" y1="804" x2="847" y2="802"/><line class="e1" x1="1053" y1="804" x2="853" y2="853"/><line class="e1" x1="1053" y1="804" x2="870" y2="894"/><line class="e1" x1="1207" y1="827" x2="1201" y2="1011"/>
<line class="e1" x1="1080" y1="891" x2="1148" y2="882"/><line class="e1" x1="1080" y1="891" x2="1233" y2="912"/><line class="e1" x1="1100" y1="1043" x2="1071" y2="1221"/><line class="e1" x1="847" y1="802" x2="804" y2="995"/><line class="e1" x1="847" y1="802" x2="747" y2="1041"/><line class="e1" x1="853" y1="853" x2="747" y2="1041"/><line class="e1" x1="870" y1="894" x2="747" y2="1041"/><line class="e1" x1="927" y1="853" x2="1080" y2="891"/>
<line class="e1" x1="1010" y1="1162" x2="872" y2="1240"/><line class="e1" x1="1010" y1="1162" x2="1126" y2="1158"/><line class="e1" x1="990" y1="1305" x2="1146" y2="1309"/><line class="e1" x1="990" y1="1305" x2="1089" y2="1360"/><line class="e1" x1="1126" y1="1158" x2="1190" y2="1213"/><line class="e1" x1="1126" y1="1158" x2="1146" y2="1309"/><line class="e1" x1="993" y1="1058" x2="907" y2="1155"/>
<line class="e2" x1="1053" y1="804" x2="1207" y2="827"/><line class="e2" x1="1053" y1="804" x2="1148" y2="882"/><line class="e2" x1="1207" y1="827" x2="1080" y2="891"/><line class="e2" x1="1233" y1="912" x2="1201" y2="1011"/><line class="e2" x1="1024" y1="961" x2="927" y2="853"/><line class="e2" x1="1100" y1="1043" x2="993" y2="1058"/><line class="e2" x1="853" y1="853" x2="897" y2="964"/><line class="e2" x1="853" y1="853" x2="804" y2="995"/>
<line class="e2" x1="927" y1="853" x2="804" y2="995"/><line class="e2" x1="870" y1="894" x2="804" y2="995"/><line class="e2" x1="907" y1="1155" x2="1010" y2="1162"/><line class="e2" x1="907" y1="1155" x2="940" y2="1246"/><line class="e2" x1="907" y1="1155" x2="990" y2="1305"/><line class="e2" x1="872" y1="1240" x2="927" y2="1328"/><line class="e2" x1="927" y1="1328" x2="990" y2="1305"/>
<line class="e3" x1="1070" y1="742" x2="1080" y2="891"/><line class="e3" x1="1053" y1="804" x2="927" y2="853"/><line class="e3" x1="1207" y1="827" x2="1148" y2="882"/><line class="e3" x1="1233" y1="912" x2="1271" y2="1027"/><line class="e3" x1="926" y1="754" x2="847" y2="802"/><line class="e3" x1="926" y1="754" x2="927" y2="853"/><line class="e3" x1="926" y1="754" x2="870" y2="894"/><line class="e3" x1="847" y1="802" x2="870" y2="894"/>
<line class="e3" x1="847" y1="802" x2="927" y2="853"/><line class="e3" x1="894" y1="818" x2="853" y2="853"/><line class="e3" x1="894" y1="818" x2="870" y2="894"/><line class="e3" x1="894" y1="818" x2="897" y2="964"/><line class="e3" x1="927" y1="853" x2="897" y2="964"/><line class="e3" x1="907" y1="1155" x2="872" y2="1240"/><line class="e3" x1="907" y1="1155" x2="927" y2="1328"/><line class="e3" x1="1010" y1="1162" x2="927" y2="1328"/>
<line class="e3" x1="1010" y1="1162" x2="990" y2="1305"/><line class="e3" x1="1190" y1="1213" x2="1089" y2="1360"/>
<line class="e4" x1="1053" y1="804" x2="1080" y2="891"/><line class="e4" x1="1201" y1="1011" x2="1271" y2="1027"/><line class="e4" x1="1024" y1="961" x2="1100" y2="1043"/><line class="e4" x1="926" y1="754" x2="894" y2="818"/><line class="e4" x1="926" y1="754" x2="853" y2="853"/><line class="e4" x1="894" y1="818" x2="927" y2="853"/><line class="e4" x1="853" y1="853" x2="870" y2="894"/><line class="e4" x1="804" y1="995" x2="747" y2="1041"/><line class="e4" x1="747" y1="1041" x2="784" y2="1151"/><line class="e4" x1="872" y1="1240" x2="990" y2="1305"/>
<line class="e5" x1="1207" y1="827" x2="1233" y2="912"/><line class="e5" x1="1148" y1="882" x2="1233" y2="912"/><line class="e5" x1="847" y1="802" x2="894" y2="818"/><line class="e5" x1="847" y1="802" x2="853" y2="853"/><line class="e5" x1="853" y1="853" x2="927" y2="853"/><line class="e5" x1="870" y1="894" x2="897" y2="964"/><line class="e5" x1="927" y1="853" x2="870" y2="894"/><line class="e5" x1="804" y1="995" x2="784" y2="1151"/>
<line class="e5" x1="872" y1="1240" x2="940" y2="1246"/><line class="e5" x1="940" y1="1246" x2="990" y2="1305"/><line class="e5" x1="1190" y1="1213" x2="1146" y2="1309"/>
<line class="e6" x1="1070" y1="742" x2="1053" y2="804"/><line class="e8" x1="1146" y1="1309" x2="1089" y2="1360"/>
</g>
</g>
<g id="nodes-a">
<g id="a-MP13" class="n b"><circle cx="365" cy="34" r="18"/><text x="365" y="34">MP13</text></g>
<g id="a-MP17" class="n b"><circle cx="253" cy="53" r="18"/><text x="253" y="53">MP17</text></g>
<g id="a-MP16" class="n b"><circle cx="312" cy="62" r="18"/><text x="312" y="62">MP16</text></g>
<g id="a-MP12" class="n b"><circle cx="412" cy="78" r="18"/><text x="412" y="78">MP12</text></g>
<g id="a-MP4" class="n b"><circle cx="194" cy="88" r="18"/><text x="194" y="88">MP4</text></g>
<g id="a-MV4" class="n v"><circle cx="501" cy="62" r="18"/><text x="501" y="62">MV4</text></g>
<g id="a-MP5" class="n b"><circle cx="290" cy="105" r="18"/><text x="290" y="105">MP5</text></g>
<g id="a-MP14" class="n b"><circle cx="359" cy="110" r="18"/><text x="359" y="110">MP14</text></g>
<g id="a-MP6" class="n b"><circle cx="249" cy="133" r="18"/><text x="249" y="133">MP6</text></g>
<g id="a-MP15" class="n b"><circle cx="391" cy="143" r="18"/><text x="391" y="143">MP15</text></g>
<g id="a-MV6" class="n v"><circle cx="492" cy="151" r="18"/><text x="492" y="151">MV6</text></g>
<g id="a-MP7" class="n b"><circle cx="307" cy="163" r="18"/><text x="307" y="163">MP7</text></g>
<g id="a-MP8" class="n b"><circle cx="346" cy="185" r="18"/><text x="346" y="185">MP8</text></g>
<g id="a-MP9" class="n b"><circle cx="276" cy="205" r="18"/><text x="276" y="205">MP9</text></g>
<g id="a-MP2" class="n b"><circle cx="228" cy="216" r="18"/><text x="228" y="216">MP2</text></g>
<g id="a-MP10" class="n b"><circle cx="382" cy="217" r="18"/><text x="382" y="217">MP10</text></g>
<g id="a-MV5" class="n v"><circle cx="478" cy="212" r="18"/><text x="478" y="212">MV5</text></g>
<g id="a-MV2" class="n v"><circle cx="559" cy="244" r="18"/><text x="559" y="244">MV2</text></g>
<g id="a-MP3" class="n b"><circle cx="307" cy="257" r="18"/><text x="307" y="257">MP3</text></g>
<g id="a-MP11" class="n b"><circle cx="351" cy="258" r="18"/><text x="351" y="258">MP11</text></g>
<g id="a-MP1" class="n b"><circle cx="259" cy="279" r="18"/><text x="259" y="279">MP1</text></g>
<g id="a-CN3" class="n g"><circle cx="90" cy="288" r="18"/><text x="90" y="288">CN3</text></g>
<g id="a-MV1" class="n v"><circle cx="439" cy="316" r="18"/><text x="439" y="316">MV1</text></g>
<g id="a-MV3" class="n v"><circle cx="508" cy="315" r="18"/><text x="508" y="315">MV3</text></g>
<g id="a-CN1" class="n g"><circle cx="150" cy="391" r="18"/><text x="150" y="391">CN1</text></g>
<g id="a-CN4" class="n g"><circle cx="34" cy="412" r="18"/><text x="34" y="412">CN4</text></g>
<g id="a-CN9" class="n g"><circle cx="256" cy="433" r="18"/><text x="256" y="433">CN9</text></g>
<g id="a-CN7" class="n g"><circle cx="342" cy="445" r="18"/><text x="342" y="445">CN7</text></g>
<g id="a-CN6" class="n g"><circle cx="303" cy="453" r="18"/><text x="303" y="453">CN6</text></g>
<g id="a-CN10" class="n g"><circle cx="295" cy="518" r="18"/><text x="295" y="518">CN10</text></g>
<g id="a-CN8" class="n g"><circle cx="244" cy="528" r="18"/><text x="244" y="528">CN8</text></g>
<g id="a-CN5" class="n g"><circle cx="380" cy="543" r="18"/><text x="380" y="543">CN5</text></g>
<g id="a-CN2" class="n g"><circle cx="283" cy="653" r="18"/><text x="283" y="653">CN2</text></g>
</g>
<g id="nodes-b">
<g id="b-MP9" class="n b"><circle cx="1087" cy="34" r="18"/><text x="1087" y="34">MP9</text></g>
<g id="b-MP2" class="n b"><circle cx="952" cy="79" r="18"/><text x="952" y="79">MP2</text></g>
<g id="b-MP17" class="n b"><circle cx="1027" cy="107" r="18"/><text x="1027" y="107">MP17</text></g>
<g id="b-MP6" class="n b"><circle cx="1109" cy="133" r="18"/><text x="1109" y="133">MP6</text></g>
<g id="b-MP8" class="n b"><circle cx="1234" cy="136" r="18"/><text x="1234" y="136">MP8</text></g>
<g id="b-MP1" class="n b"><circle cx="919" cy="148" r="18"/><text x="919" y="148">MP1</text></g>
<g id="b-CN2" class="n g"><circle cx="816" cy="166" r="18"/><text x="816" y="166">CN2</text></g>
<g id="b-MP3" class="n b"><circle cx="987" cy="199" r="18"/><text x="987" y="199">MP3</text></g>
<g id="b-MP5" class="n b"><circle cx="1086" cy="198" r="18"/><text x="1086" y="198">MP5</text></g>
<g id="b-MP10" class="n b"><circle cx="1213" cy="231" r="18"/><text x="1213" y="231">MP10</text></g>
<g id="b-CN5" class="n g"><circle cx="753" cy="244" r="18"/><text x="753" y="244">CN5</text></g>
<g id="b-CN10" class="n g"><circle cx="832" cy="251" r="18"/><text x="832" y="251">CN10</text></g>
<g id="b-MP7" class="n b"><circle cx="1115" cy="259" r="18"/><text x="1115" y="259">MP7</text></g>
<g id="b-MP16" class="n b"><circle cx="1038" cy="270" r="18"/><text x="1038" y="270">MP16</text></g>
<g id="b-CN8" class="n g"><circle cx="801" cy="283" r="18"/><text x="801" y="283">CN8</text></g>
<g id="b-CN9" class="n g"><circle cx="871" cy="286" r="18"/><text x="871" y="286">CN9</text></g>
<g id="b-MP11" class="n b"><circle cx="1271" cy="297" r="18"/><text x="1271" y="297">MP11</text></g>
<g id="b-CN6" class="n g"><circle cx="803" cy="332" r="18"/><text x="803" y="332">CN6</text></g>
<g id="b-CN7" class="n g"><circle cx="847" cy="338" r="18"/><text x="847" y="338">CN7</text></g>
<g id="b-MP4" class="n b"><circle cx="1147" cy="368" r="18"/><text x="1147" y="368">MP4</text></g>
<g id="b-MV1" class="n v"><circle cx="991" cy="390" r="18"/><text x="991" y="390">MV1</text></g>
<g id="b-MP12" class="n b"><circle cx="1243" cy="420" r="18"/><text x="1243" y="420">MP12</text></g>
<g id="b-CN4" class="n g"><circle cx="747" cy="451" r="18"/><text x="747" y="451">CN4</text></g>
<g id="b-MV5" class="n v"><circle cx="993" cy="470" r="18"/><text x="993" y="470">MV5</text></g>
<g id="b-MV2" class="n v"><circle cx="1070" cy="483" r="18"/><text x="1070" y="483">MV2</text></g>
<g id="b-CN1" class="n g"><circle cx="851" cy="488" r="18"/><text x="851" y="488">CN1</text></g>
<g id="b-MP15" class="n b"><circle cx="1180" cy="489" r="18"/><text x="1180" y="489">MP15</text></g>
<g id="b-MV3" class="n v"><circle cx="930" cy="519" r="18"/><text x="930" y="519">MV3</text></g>
<g id="b-CN3" class="n g"><circle cx="794" cy="537" r="18"/><text x="794" y="537">CN3</text></g>
<g id="b-MP14" class="n b"><circle cx="1155" cy="561" r="18"/><text x="1155" y="561">MP14</text></g>
<g id="b-MV4" class="n v"><circle cx="1038" cy="562" r="18"/><text x="1038" y="562">MV4</text></g>
<g id="b-MV6" class="n v"><circle cx="973" cy="589" r="18"/><text x="973" y="589">MV6</text></g>
<g id="b-MP13" class="n b"><circle cx="1150" cy="653" r="18"/><text x="1150" y="653">MP13</text></g>
</g>
<g id="nodes-c">
<g id="c-MV2" class="n v"><circle cx="451" cy="740" r="18"/><text x="451" y="740">MV2</text></g>
<g id="c-CN5" class="n g"><circle cx="239" cy="764" r="18"/><text x="239" y="764">CN5</text></g>
<g id="c-CN2" class="n g"><circle cx="168" cy="777" r="18"/><text x="168" y="777">CN2</text></g>
<g id="c-MV4" class="n v"><circle cx="385" cy="809" r="18"/><text x="385" y="809">MV4</text></g>
<g id="c-MV3" class="n v"><circle cx="507" cy="816" r="18"/><text x="507" y="816">MV3</text></g>
<g id="c-CN7" class="n g"><circle cx="220" cy="847" r="18"/><text x="220" y="847">CN7</text></g>
<g id="c-CN6" class="n g"><circle cx="268" cy="849" r="18"/><text x="268" y="849">CN6</text></g>
<g id="c-CN8" class="n g"><circle cx="168" cy="872" r="18"/><text x="168" y="872">CN8</text></g>
<g id="c-MV5" class="n v"><circle cx="411" cy="903" r="18"/><text x="411" y="903">MV5</text></g>
<g id="c-CN10" class="n g"><circle cx="204" cy="916" r="18"/><text x="204" y="916">CN10</text></g>
<g id="c-MV6" class="n v"><circle cx="489" cy="919" r="18"/><text x="489" y="919">MV6</text></g>
<g id="c-CN9" class="n g"><circle cx="267" cy="921" r="18"/><text x="267" y="921">CN9</text></g>
<g id="c-MV1" class="n v"><circle cx="558" cy="911" r="18"/><text x="558" y="911">MV1</text></g>
<g id="c-CN4" class="n g"><circle cx="93" cy="952" r="18"/><text x="93" y="952">CN4</text></g>
<g id="c-CN1" class="n g"><circle cx="159" cy="996" r="18"/><text x="159" y="996">CN1</text></g>
<g id="c-MP8" class="n b"><circle cx="34" cy="1039" r="18"/><text x="34" y="1039">MP8</text></g>
<g id="c-MP6" class="n b"><circle cx="420" cy="1059" r="18"/><text x="420" y="1059">MP6</text></g>
<g id="c-MP7" class="n b"><circle cx="513" cy="1058" r="18"/><text x="513" y="1058">MP7</text></g>
<g id="c-MP17" class="n b"><circle cx="299" cy="1078" r="18"/><text x="299" y="1078">MP17</text></g>
<g id="c-CN3" class="n g"><circle cx="85" cy="1129" r="18"/><text x="85" y="1129">CN3</text></g>
<g id="c-MP5" class="n b"><circle cx="511" cy="1129" r="18"/><text x="511" y="1129">MP5</text></g>
<g id="c-MP9" class="n b"><circle cx="164" cy="1139" r="18"/><text x="164" y="1139">MP9</text></g>
<g id="c-MP16" class="n b"><circle cx="363" cy="1141" r="18"/><text x="363" y="1141">MP16</text></g>
<g id="c-MP1" class="n b"><circle cx="442" cy="1140" r="18"/><text x="442" y="1140">MP1</text></g>
<g id="c-MP3" class="n b"><circle cx="555" cy="1178" r="18"/><text x="555" y="1178">MP3</text></g>
<g id="c-MP12" class="n b"><circle cx="245" cy="1186" r="18"/><text x="245" y="1186">MP12</text></g>
<g id="c-MP10" class="n b"><circle cx="98" cy="1227" r="18"/><text x="98" y="1227">MP10</text></g>
<g id="c-MP14" class="n b"><circle cx="321" cy="1239" r="18"/><text x="321" y="1239">MP14</text></g>
<g id="c-MP4" class="n b"><circle cx="429" cy="1243" r="18"/><text x="429" y="1243">MP4</text></g>
<g id="c-MP2" class="n b"><circle cx="509" cy="1273" r="18"/><text x="509" y="1273">MP2</text></g>
<g id="c-MP11" class="n b"><circle cx="165" cy="1274" r="18"/><text x="165" y="1274">MP11</text></g>
<g id="c-MP13" class="n b"><circle cx="266" cy="1325" r="18"/><text x="266" y="1325">MP13</text></g>
<g id="c-MP15" class="n b"><circle cx="350" cy="1359" r="18"/><text x="350" y="1359">MP15</text></g>
</g>
<g id="nodes-d">
<g id="d-MP1" class="n b"><circle cx="1070" cy="742" r="18"/><text x="1070" y="742">MP1</text></g>
<g id="d-CN5" class="n g"><circle cx="926" cy="754" r="18"/><text x="926" y="754">CN5</text></g>
<g id="d-CN8" class="n g"><circle cx="847" cy="802" r="18"/><text x="847" y="802">CN8</text></g>
<g id="d-MP2" class="n b"><circle cx="1053" cy="804" r="18"/><text x="1053" y="804">MP2</text></g>
<g id="d-CN7" class="n g"><circle cx="894" cy="818" r="18"/><text x="894" y="818">CN7</text></g>
<g id="d-MP5" class="n b"><circle cx="1207" cy="827" r="18"/><text x="1207" y="827">MP5</text></g>
<g id="d-CN6" class="n g"><circle cx="853" cy="853" r="18"/><text x="853" y="853">CN6</text></g>
<g id="d-CN9" class="n g"><circle cx="927" cy="853" r="18"/><text x="927" y="853">CN9</text></g>
<g id="d-MP7" class="n b"><circle cx="1148" cy="882" r="18"/><text x="1148" y="882">MP7</text></g>
<g id="d-MP3" class="n b"><circle cx="1080" cy="891" r="18"/><text x="1080" y="891">MP3</text></g>
<g id="d-CN10" class="n g"><circle cx="870" cy="894" r="18"/><text x="870" y="894">CN10</text></g>
<g id="d-MP6" class="n b"><circle cx="1233" cy="912" r="18"/><text x="1233" y="912">MP6</text></g>
<g id="d-CN2" class="n g"><circle cx="897" cy="964" r="18"/><text x="897" y="964">CN2</text></g>
<g id="d-MP11" class="n b"><circle cx="1024" cy="961" r="18"/><text x="1024" y="961">MP11</text></g>
<g id="d-CN1" class="n g"><circle cx="804" cy="995" r="18"/><text x="804" y="995">CN1</text></g>
<g id="d-MP17" class="n b"><circle cx="1201" cy="1011" r="18"/><text x="1201" y="1011">MP17</text></g>
<g id="d-MP16" class="n b"><circle cx="1271" cy="1027" r="18"/><text x="1271" y="1027">MP16</text></g>
<g id="d-CN3" class="n g"><circle cx="747" cy="1041" r="18"/><text x="747" y="1041">CN3</text></g>
<g id="d-MP10" class="n b"><circle cx="1100" cy="1043" r="18"/><text x="1100" y="1043">MP10</text></g>
<g id="d-MP8" class="n b"><circle cx="993" cy="1058" r="18"/><text x="993" y="1058">MP8</text></g>
<g id="d-CN4" class="n g"><circle cx="784" cy="1151" r="18"/><text x="784" y="1151">CN4</text></g>
<g id="d-MV1" class="n v"><circle cx="907" cy="1155" r="18"/><text x="907" y="1155">MV1</text></g>
<g id="d-MV2" class="n v"><circle cx="1010" cy="1162" r="18"/><text x="1010" y="1162">MV2</text></g>
<g id="d-MP12" class="n b"><circle cx="1126" cy="1158" r="18"/><text x="1126" y="1158">MP12</text></g>
<g id="d-MP4" class="n b"><circle cx="1236" cy="1138" r="18"/><text x="1236" y="1138">MP4</text></g>
<g id="d-MP13" class="n b"><circle cx="1190" cy="1213" r="18"/><text x="1190" y="1213">MP13</text></g>
<g id="d-MP9" class="n b"><circle cx="1071" cy="1221" r="18"/><text x="1071" y="1221">MP9</text></g>
<g id="d-MV6" class="n v"><circle cx="872" cy="1240" r="18"/><text x="872" y="1240">MV6</text></g>
<g id="d-MV4" class="n v"><circle cx="940" cy="1246" r="18"/><text x="940" y="1246">MV4</text></g>
<g id="d-MV5" class="n v"><circle cx="990" cy="1305" r="18"/><text x="990" y="1305">MV5</text></g>
<g id="d-MP14" class="n b"><circle cx="1146" cy="1309" r="18"/><text x="1146" y="1309">MP14</text></g>
<g id="d-MV3" class="n v"><circle cx="927" cy="1328" r="18"/><text x="927" y="1328">MV3</text></g>
<g id="d-MP15" class="n b"><circle cx="1089" cy="1360" r="18"/><text x="1089" y="1360">MP15</text></g>
</g>
<g id="legend-a">
<text class="lt" x="604" y="280">Total</text>
<circle class="lc" cx="611" cy="298" r="6" fill="#5cb7f6"/><text class="li" x="622" y="302">MPAI</text>
<circle class="lc" cx="611" cy="316" r="6" fill="#f7636e"/><text class="li" x="622" y="320">MVS</text>
<circle class="lc" cx="611" cy="334" r="6" fill="#4cf598"/><text class="li" x="622" y="338">CN</text>
</g>
<g id="legend-b">
<text class="lt" x="1316" y="280">Profile 1</text>
<circle class="lc" cx="1323" cy="298" r="6" fill="#5cb7f6"/><text class="li" x="1334" y="302">MPAI</text>
<circle class="lc" cx="1323" cy="316" r="6" fill="#f7636e"/><text class="li" x="1334" y="320">MVS</text>
<circle class="lc" cx="1323" cy="334" r="6" fill="#4cf598"/><text class="li" x="1334" y="338">CN</text>
</g>
<g id="legend-c">
<text class="lt" x="604" y="987">Profile 2</text>
<circle class="lc" cx="611" cy="1005" r="6" fill="#5cb7f6"/><text class="li" x="622" y="1009">MPAI</text>
<circle class="lc" cx="611" cy="1023" r="6" fill="#f7636e"/><text class="li" x="622" y="1027">MVS</text>
<circle class="lc" cx="611" cy="1041" r="6" fill="#4cf598"/><text class="li" x="622" y="1045">CN</text>
</g>
<g id="legend-d">
<text class="lt" x="1316" y="988">Profile 3</text>
<circle class="lc" cx="1323" cy="1006" r="6" fill="#5cb7f6"/><text class="li" x="1334" y="1010">MPAI</text>
<circle class="lc" cx="1323" cy="1024" r="6" fill="#f7636e"/><text class="li" x="1334" y="1028">MVS</text>
<circle class="lc" cx="1323" cy="1042" r="6" fill="#4cf598"/><text class="li" x="1334" y="1046">CN</text>
</g>
<g id="captions">
<text class="cap" x="349" y="707">(<tspan font-weight="bold">a</tspan>)</text>
<text class="cap" x="1061" y="707">(<tspan font-weight="bold">b</tspan>)</text>
<text class="cap" x="349" y="1415">(<tspan font-weight="bold">c</tspan>)</text>
<text class="cap" x="1061" y="1415">(<tspan font-weight="bold">d</tspan>)</text>
</g>
</svg>
